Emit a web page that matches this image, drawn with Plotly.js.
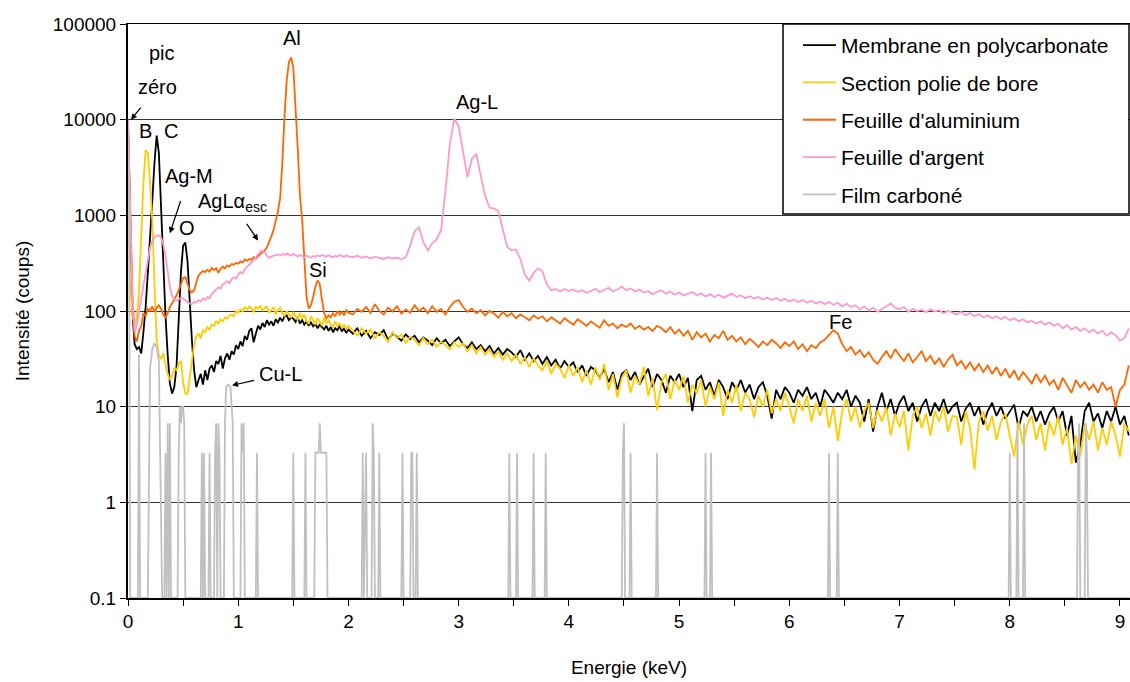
<!DOCTYPE html>
<html><head><meta charset="utf-8">
<script src="https://cdn.plot.ly/plotly-3.0.1.min.js"></script>
<style>html,body{margin:0;padding:0;background:#fff}#chart{width:1130px;height:682px}</style>
</head><body><div id="chart"></div>
<script>
// Channels: 0.00–2.00 keV every 0.02 keV (low), then 2.04–9.08 keV every 0.04 keV (high)
const lowStep = 0.02, highStart = 2.04, highStep = 0.04;

const seriesNames = ["Membrane en polycarbonate", "Section polie de bore", "Feuille d'aluminium", "Feuille d'argent", "Film carboné"];

const membraneLow = [9000,800,100,45,40,42,36,60,110,250,
 550,1400,3500,6800,4500,1200,285,90,35,17.5,
 13.7,16,26,80,250,480,520,330,110,49,
 24,16,19,22,17,24,19,25,27,23,
 30,28,34,25,32,36,31,38,35,44,
 40,48,43,55,50,62,66,47,58,70,
 64,75,68,80,72,78,70,82,76,85,
 78,88,90,80,86,83,77,86,74,80,
 72,78,70,76,69,74,66,72,68,64,
 70,62,68,60,66,63,70,61,66,59,
 64];
const membraneHigh = [58,66,55,62,52,60,56,63,50,58,
 54,49,57,51,55,47,53,49,44,52,
 46,50,43,48,53,45,41,47,40,44,
 38,43,36,41,35,40,37,33,39,31,
 36,30,34,28,33,27,31,25,30,26,
 29,23,27,21,26,24,20,25,18,23,
 15,22,24,19,23,17,21,25,16,22,
 19,14,21,18,22,16,20,9,19,21,
 15,18,13,19,16,12,18,15,19,14,
 17,12,16,18,13,7.5,15,12,16,14,
 11,15,13,16,12,14,10,15,13,11,
 14,12,15,10,13,11,7,12,5.5,10,
 14,9,12,8,11,13,9,11,7,10,
 12,8,11,9,12,8.5,10,11,7,9.5,
 11,8,10,6.5,9,11,8,10,7.5,9,
 10.5,6,9,8,10,7,9,6.5,8.5,10,
 7,9,5,8,2.6,4,9,11,7,8.5,
 6,9,7,10,6.5,8,5];

const boreLow = [2000,200,90,70,85,160,600,2200,4800,4500,
 2200,900,200,50,34,32,36,28,22,19,
 21,25,24,28,30,18,13.7,13.5,20,33,
 45,55,58,52,63,60,68,64,72,70,
 78,74,82,78,86,83,90,92,88,100,
 96,104,99,110,103,112,105,98,110,106,
 114,100,108,112,96,104,110,92,102,108,
 95,88,100,92,86,98,90,80,95,84,
 92,78,74,88,80,72,84,78,70,86,
 75,80,72,68,78,70,75,66,72,64,
 70];
const boreHigh = [62,55,66,58,64,52,60,55,48,60,
 52,57,46,54,50,44,52,45,50,42,
 48,44,40,47,42,46,38,44,36,42,
 35,40,33,38,31,36,30,35,28,33,
 26,32,27,24,30,22,28,25,20,27,
 21,26,18,24,17,26,19,28,15,22,
 12.5,20,24,14,21,17,26,13,20,9.2,
 18,22,12,19,15,21,11,17,13.7,19,
 10,16,12,18,8,15,11,17,9,14,
 12,7.8,13,10,15,8.5,12,9,14,10,
 6.7,12,9,13,7,11,8,12,6,10,
 4.4,9,12,7,10,6.1,9,11,6,9.2,
 7,10,5,8.5,6.1,9,3.5,8,10,6,
 8.5,5,9,7,10,5.5,8,7.8,4,9,
 6,2.2,7,9,5.6,8,4.5,7,8.5,5,
 3,7,4,6.5,8,4.5,6.7,3.5,7,5,
 8,4,6,2.5,5,3,6.7,4.5,7,3.5,
 6,4,7,5,3,6.7,5.5];

const aluminiumLow = [9000,1500,150,55,48,62,70,95,88,105,
 100,112,98,108,115,105,92,86,95,110,
 120,130,145,165,190,220,226,195,165,156,
 165,200,235,250,262,255,270,258,282,268,
 280,250,275,290,280,300,292,310,305,318,
 312,330,320,345,335,350,342,365,355,375,
 390,405,430,460,520,600,700,850,1100,1500,
 3500,11000,26000,40000,44600,35000,14000,5000,1600,900,
 350,140,106,115,140,180,208,190,130,95,
 84,90,86,95,88,100,92,98,90,102,
 96];
const aluminiumHigh = [92,105,98,110,95,118,100,92,108,99,
 112,94,104,96,115,100,108,95,112,98,
 105,92,110,125,130,110,98,106,95,102,
 90,100,94,85,98,88,95,84,92,86,
 80,90,83,88,78,86,80,74,84,78,
 72,82,76,70,78,72,67,80,70,74,
 66,72,68,74,65,70,64,68,62,70,
 66,60,68,58,64,55,62,50,60,53,
 58,48,56,52,62,50,55,48,53,45,
 51,47,42,48,44,50,46,41,47,43,
 48,40,45,38,44,41,47,50,56,63,
 58,45,38,42,35,39,33,37,31,28,
 33,38,32,40,34,30,36,29,33,38,
 30,34,28,32,26,31,35,27,30,25,
 29,24,28,23,27,22,26,21,25,20,
 24,19,23,20,17.5,22,18,21,17,19,
 15,20,17,14,19,16,18,15,17,14,
 18,15,16,10,15,17,27];

const argentLow = [10000,1200,150,60,70,100,135,177,250,350,
 460,540,590,615,620,590,500,380,260,177,
 145,132,128,133,137,135,128,124,120,118,
 125,122,130,126,135,130,140,136,150,160,
 168,177,172,190,198,205,195,215,225,218,
 240,255,248,275,290,305,320,340,365,395,
 420,430,415,380,360,370,380,385,390,380,
 395,385,400,390,378,395,382,370,385,375,
 365,380,370,360,375,368,380,372,385,378,
 370,382,374,365,378,370,385,375,368,380,
 372];
const argentHigh = [365,378,360,372,355,368,360,350,365,355,
 360,345,365,480,680,748,520,430,510,560,
 700,1800,5500,10300,8500,4500,2500,3900,4400,2600,
 1600,1200,1180,1100,700,470,430,440,350,240,
 208,250,280,260,190,165,170,160,170,162,
 168,158,165,155,162,170,158,166,175,160,
 168,180,165,172,160,168,155,162,150,158,
 165,152,160,148,156,145,152,158,146,153,
 142,150,140,148,138,145,152,140,146,136,
 143,135,140,132,138,130,137,128,134,126,
 132,124,130,122,128,120,126,118,124,116,
 122,112,119,110,115,104,112,101,108,98,
 104,112,120,108,104,110,98,105,100,103,
 97,104,99,102,95,100,96,92,98,90,
 95,88,93,86,90,84,88,82,87,80,
 84,78,82,76,79,74,78,72,76,70,
 74,66,71,64,68,62,66,60,64,58,
 62,55,60,56,49,52,66];

// Film carboné: sparse counts (0 counts drawn at the 0.1 floor)
const filmEnergy = [0,0.01,0.02,0.09,0.10,0.11,0.18,0.20,0.22,0.24,0.26,0.28,0.31,
 0.33,0.34,0.35,0.36,0.37,0.38,0.39,
 0.45,0.46,0.47,0.48,0.49,0.50,0.51,0.52,
 0.66,0.67,0.68,0.69,0.70,0.73,0.74,0.75,
 0.78,0.79,0.80,0.81,0.82,0.83,0.84,
 0.87,0.88,0.89,0.91,0.93,0.95,0.96,
 1.02,1.03,1.04,1.05,1.06,
 1.16,1.17,1.18,
 1.49,1.50,1.51,
 1.60,1.61,1.62,
 1.69,1.70,1.73,1.74,1.75,1.80,1.81,
 2.12,2.13,2.14,2.16,2.17,
 2.21,2.22,2.23,2.24,2.27,2.28,2.29,
 2.48,2.49,2.50,2.56,2.57,2.58,2.59,2.61,2.62,2.63,
 3.45,3.46,3.47,3.52,3.53,3.54,
 3.67,3.68,3.69,3.78,3.79,3.80,
 4.48,4.49,4.50,4.51,4.55,4.56,4.57,
 4.79,4.80,4.81,
 5.23,5.24,5.25,5.28,5.29,5.30,
 6.35,6.36,6.37,6.43,6.44,6.45,
 7.99,8.00,8.01,8.06,8.07,8.08,8.12,8.13,8.14,
 8.61,8.62,8.63,8.64,8.68,8.69,8.70,8.71,
 9.09];
const filmCounts = [8000,800,0.1,0.1,35,0.1,0.1,25,40,46,42,30,0.1,
 0.1,3.3,0.1,6.7,0.1,6.7,0.1,
 0.1,3.3,10,6.7,10,10,6.7,0.1,
 0.1,3.3,0.1,3.3,0.1,0.1,3.3,0.1,
 0.1,3.3,6.7,0.1,6.7,3.3,0.1,
 0.1,6.7,16,17,16,6.7,0.1,
 0.1,6.7,3.3,6.7,0.1,
 0.1,3.3,0.1,
 0.1,3.3,0.1,
 0.1,3.3,0.1,
 0.1,3.3,3.3,6.7,3.3,3.3,0.1,
 0.1,3.3,0.1,3.3,0.1,
 0.1,6.7,3.3,0.1,0.1,3.3,0.1,
 0.1,3.3,0.1,0.1,3.3,3.3,0.1,0.1,3.3,0.1,
 0.1,3.3,0.1,0.1,3.3,0.1,
 0.1,3.3,0.1,0.1,3.3,0.1,
 0.1,3.3,6.7,0.1,0.1,3.3,0.1,
 0.1,3.3,0.1,
 0.1,3.3,0.1,0.1,3.3,0.1,
 0.1,3.3,0.1,0.1,3.3,0.1,
 0.1,3.3,0.1,0.1,6.7,0.1,0.1,6.7,0.1,
 0.1,3.3,6.7,0.1,0.1,6.7,3.3,0.1,
 0.1];

const yTickVals = [0.1,1,10,100,1000,10000,100000];
const yTickText = ['0.1','1','10','100','1000','10000','100000'];
const colors = ['#000000','#FFCC00','#FF6600','#FF99CC','#C0C0C0'];

function energies(low, high){
  const e = [];
  low.forEach((_, i) => e.push(+(i*lowStep).toFixed(2)));
  high.forEach((_, i) => e.push(+(highStart + i*highStep).toFixed(2)));
  return e;
}
function join(low, high){ return low.concat(high); }

const FONT = 'Liberation Sans, Arial, sans-serif';
const spectra = [[membraneLow, membraneHigh],[boreLow, boreHigh],[aluminiumLow, aluminiumHigh],[argentLow, argentHigh]];
const traces = spectra.map((s, k) => ({
  type:'scatter', mode:'lines', name: seriesNames[k], legendgroup:'g'+k,
  x: energies(s[0], s[1]), y: join(s[0], s[1]),
  line:{color: colors[k], width:1.8}, hoverinfo:'x+y'
}));
traces.push({type:'scatter', mode:'lines', name: seriesNames[4], legendgroup:'g4',
  x: filmEnergy, y: filmCounts, line:{color: colors[4], width:1.8}});

// pixel -> paper helpers for the plot area (128..1130 x 24..598)
const L=128, T=24, W=1002, H=574;
const px = v => (v-L)/W, py = v => (T+H-v)/H;
const labelFont = {family:FONT, size:20, color:'#000'};

function lbl(text, x, y){ return {text, xref:'paper', yref:'paper', x:px(x), y:py(y), xanchor:'center', yanchor:'middle', showarrow:false, font:labelFont}; }
// label with an arrow: head at (energy, value), text centred at pixel offset (ax, ay) from the head
function arrowLbl(text, xE, yV, ax, ay, sstand){ return {text, xref:'x', yref:'y', x:xE, y:Math.log10(yV), ax, ay,
  showarrow:true, arrowhead:2, arrowsize:1, arrowwidth:1.2, arrowcolor:'#000', startstandoff:sstand, font:labelFont}; }

const annotations = [
  lbl('pic',162,53), lbl('B',145,131), lbl('C',171,131),
  lbl('O',187,228),
  lbl('Al',292,38), lbl('Si',318,270), lbl('Ag-L',477,102), lbl('Fe',840,322),
  arrowLbl('zéro', 0.027, 10000, 27, -33, 11),
  arrowLbl('Ag-M', 0.38, 650, 19, -57, 13),
  arrowLbl('AgLα<sub>esc</sub>', 1.18, 547, -26, -38, 9),
  arrowLbl('Cu-L', 0.944, 16.7, 48, -11, 3)
];

const layout = {
  width:1130, height:682,
  margin:{l:128, r:0, t:24, b:84},
  paper_bgcolor:'#ffffff', plot_bgcolor:'#ffffff',
  font:{family:FONT, color:'#000'},
  showlegend:true,
  legend:{x:px(798), y:py(25), xanchor:'left', yanchor:'top', bgcolor:'rgba(0,0,0,0)', borderwidth:0,
    font:{family:FONT, size:21, color:'#000'}, tracegroupgap:7, itemwidth:33},
  xaxis:{range:[0, 9.091], tick0:0, dtick:1, ticks:'outside', ticklen:6, tickcolor:'#000', tickwidth:1,
    showline:true, linecolor:'#000', linewidth:1.5, mirror:true, showgrid:false, zeroline:false,
    tickfont:{family:FONT, size:19, color:'#000'},
    minor:{dtick:0.5, tick0:0, ticks:'outside', ticklen:6, tickcolor:'#000', showgrid:false},
    title:{text:'Energie (keV)', font:{family:FONT, size:19, color:'#000'}, standoff:29}},
  yaxis:{type:'log', range:[-1, 5], tickmode:'array', tickvals:yTickVals, ticktext:yTickText,
    ticks:'outside', ticklen:6, tickcolor:'#000', showline:true, linecolor:'#000', linewidth:2,
    showgrid:true, gridcolor:'#333333', gridwidth:1, zeroline:false,
    tickfont:{family:FONT, size:19, color:'#000'},
    title:{text:'Intensité (coups)', font:{family:FONT, size:19, color:'#000'}, standoff:18}},
  shapes:[{type:'rect', xref:'paper', yref:'paper', x0:px(783), x1:px(1129), y0:py(214), y1:1,
    fillcolor:'#ffffff', line:{color:'#000', width:1.5}, layer:'above'}],
  annotations
};

Plotly.newPlot('chart', traces, layout, {displayModeBar:false, staticPlot:true});
</script></body></html>
